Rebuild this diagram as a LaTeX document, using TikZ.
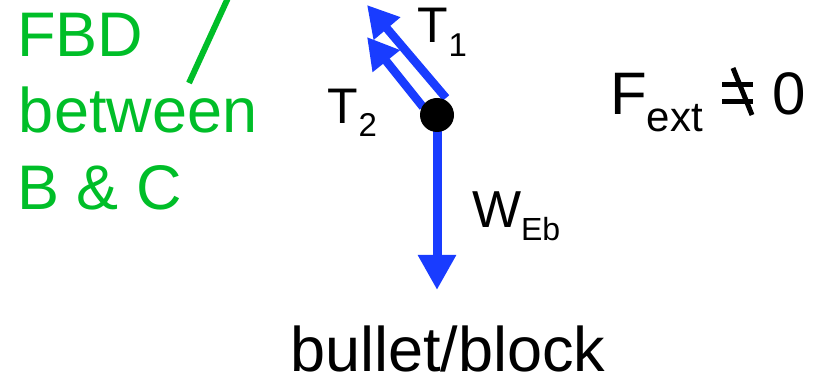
\documentclass[tikz,border=0pt]{standalone}
\usepackage{fontspec}
\setmainfont{Liberation Sans}
\usetikzlibrary{arrows.meta}
\definecolor{fblue}{RGB}{25,60,255}
\definecolor{fgreen}{RGB}{0,190,40}
\begin{document}
\begin{tikzpicture}[x=1pt,y=-1pt,
  lbl/.style={inner sep=0pt, outer sep=0pt, anchor=base west},
  force/.style={draw=fblue, line width=9pt, -{Triangle[length=35pt,width=36pt]}},
  tforce/.style={draw=fblue, line width=8.5pt, -{Triangle[length=31pt,width=33pt]}},
  greentext/.style={lbl, text=fgreen, font=\fontsize{63}{63}\selectfont},
  neqline/.style={draw=black, line width=5pt},
]
\useasboundingbox (0,0) rectangle (815,382);
% green label
\node[greentext] (fbd) at (17,57) {FBD};
\node[greentext] (betw) at (19,133) {between};
\node[greentext] (bc) at (17.5,210) {B \& C};
\coordinate (g0) at (189,83);
\coordinate (g1) at (230.7,-8);
\draw[fgreen, line width=6pt] (g0) -- (g1);
% forces
\coordinate (w0) at (437,115);
\coordinate (w1) at (437,290);
\coordinate (t1s) at (446,98);
\coordinate (t1e) at (367,5);
\coordinate (t2s) at (423,107);
\coordinate (t2e) at (367,37);
\draw[force] (w0) -- (w1);
\draw[tforce] (t1s) -- (t1e);
\draw[tforce] (t2s) -- (t2e);
\node[circle, fill=black, minimum size=34pt, inner sep=0pt] (dot) at (437,115) {};
% labels
\node[lbl, font=\fontsize{50}{50}\selectfont] (T1) at (417,43) {T\kern1pt\raisebox{-14pt}{\fontsize{33}{33}\selectfont 1}};
\node[lbl, font=\fontsize{50}{50}\selectfont] (T2) at (327,124) {T\kern1pt\raisebox{-13pt}{\fontsize{33}{33}\selectfont 2}};
\node[lbl, font=\fontsize{52}{52}\selectfont] (W) at (472,228) {W\raisebox{-13pt}{\fontsize{32}{32}\selectfont Eb}};
\node[lbl, font=\fontsize{60}{60}\selectfont] (F) at (610,115) {F\raisebox{-17pt}{\fontsize{42}{42}\selectfont ext}};
\node[lbl, font=\fontsize{60}{60}\selectfont] (zero) at (772,115) {0};
\node[lbl, font=\fontsize{63}{63}\selectfont] (bb) at (290,372) {bullet/block};
% not-equal symbol
\coordinate (e1a) at (722,85);
\coordinate (e1b) at (753,85);
\coordinate (e2a) at (722,102);
\coordinate (e2b) at (753,102);
\coordinate (s0) at (733,68);
\coordinate (s1) at (752,115);
\draw[neqline] (e1a) -- (e1b);
\draw[neqline] (e2a) -- (e2b);
\draw[neqline] (s0) -- (s1);
\end{tikzpicture}
\end{document}
